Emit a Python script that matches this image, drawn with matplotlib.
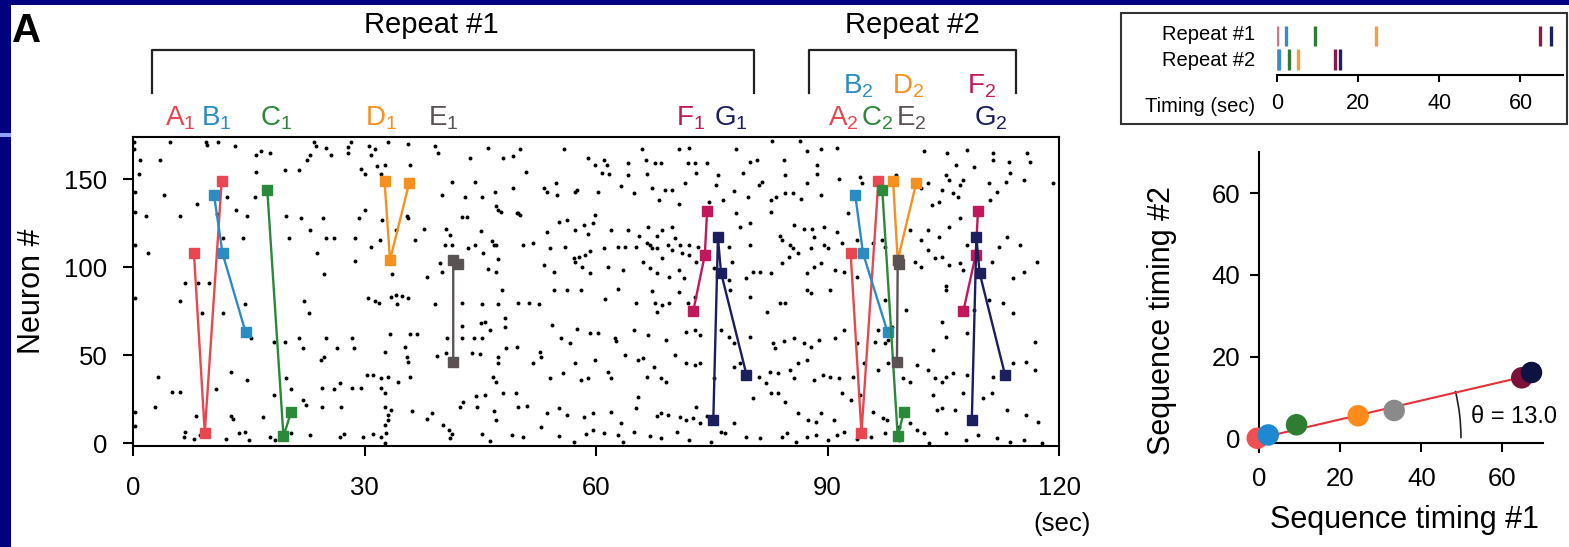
import numpy as np
import matplotlib
matplotlib.use('Agg')
import matplotlib.pyplot as plt
from matplotlib.patches import Rectangle, Arc
from matplotlib.transforms import blended_transform_factory

plt.rcParams['font.family'] = ['Liberation Sans', 'DejaVu Sans']
plt.rcParams['mathtext.default'] = 'regular'

# ---------------- data ----------------
seq_names = ['A', 'B', 'C', 'D', 'E', 'F', 'G']
seq_colors = ['#e8474f', '#2b8cc4', '#2a8a3a', '#f7901e', '#5b5353', '#c2185b', '#1b1f5e']

# repeat 1 sequences (time in sec, neuron #)
rep1_times = [[7.9, 9.3, 11.5], [10.5, 11.6, 14.6], [17.4, 19.5, 20.5], [32.6, 33.3, 35.8],
              [41.5, 41.5, 42.1], [72.6, 74.1, 74.4], [75.2, 75.8, 76.2, 79.5]]
rep1_neurons = [[108, 6, 149], [141, 108, 63], [144, 4, 18], [149, 104, 148],
                [46, 104, 102], [75, 107, 132], [13, 117, 97, 39]]
# repeat 2 sequences
rep2_times = [[93.0, 94.4, 96.6], [93.6, 94.6, 97.8], [97.1, 99.1, 99.9], [98.5, 99.1, 101.5],
              [99.0, 99.1, 99.3], [107.6, 109.2, 109.5], [108.7, 109.3, 109.7, 113.0]]
rep2_neurons = [[108, 6, 149], [141, 108, 63], [144, 4, 18], [149, 104, 148],
                [46, 104, 102], [75, 107, 132], [13, 117, 97, 39]]

# label positions of sequence names (sec)
lab1_x = [6.1, 10.8, 18.5, 32.1, 40.2, 72.2, 77.5]
lab2_x = [92.0, 94.0, 96.4, 100.4, 100.9, 110.0, 111.2]
lab2_row = [0, 1, 0, 1, 0, 1, 0]

# inset: sequence timing (sec, relative to first element)
timing1 = [0.0, 2.3, 9.4, 24.4, 64.8, 67.4]
timing2 = [0.0, 0.6, 3.1, 5.3, 14.4, 15.7]
timing_colors = ['#e07080', '#3a8ac8', '#2e7d32', '#f5a040', '#8b1a4a', '#1a2060']

# scatter of sequence timings
seq_t1 = [-0.5, 2.2, 9.2, 24.4, 33.3, 64.8, 67.2]
seq_t2 = [0.0, 0.8, 3.3, 5.5, 6.8, 14.8, 16.1]
scatter_colors = ['#f05050', '#1e88d0', '#2e7d32', '#ff8c1a', '#8a8a8a', '#7b1038', '#0d1240']
theta_deg = 13.0

# background raster (time sec, neuron #)
spikes = [
(0.1,171),(0.1,167),(4.85,171),(9.5,171),(9.6,169.5),(11.0,171),(13.2,169),(15.9,164),(16.6,166),(17.7,165),
(23.0,164),(23.5,171),(23.7,169),(25.05,168),(25.6,164),(27.8,168.5),(27.8,165),(28.3,171),(30.6,169),(30.9,164),
(31.3,167),(33.0,171),(35.7,170),(39.2,169),(39.5,165),(46.0,168),(43.7,162),(47.9,162),(49.2,163),(50.2,167),
(0.9,161),(3.55,161),(0.8,153),(15.9,154),(19.7,155),(21.5,155),(22.5,161),(29.6,156),(30.0,153),(31.6,157.5),
(32.7,158),(35.9,158),(32.1,153),(0.2,143),(4.0,141),(8.3,136),(12.2,140),(15.8,140),(10.9,130),(13.3,132.5),
(14.8,129),(1.7,129),(6.1,129),(19.8,129),(21.8,128),(24.6,128),(29.3,128),(30.0,132.5),(32.3,127),(35.7,128),
(40.0,141),(41.3,148.6),(43.0,140),(44.3,148.6),(45.2,140),(46.9,143),(47.0,135),(47.3,132.5),(47.7,131.6),(49.3,145),
(49.9,130.6),(0.2,131.6),(0.2,112.7),(2.0,108.3),(11.6,116.4),(14.3,116.4),(20.2,116.4),(23.0,121),(23.9,108.3),(25.05,116.4),
(26.0,116.4),(28.8,116.4),(30.8,111.3),(32.0,115.5),(34.1,121.2),(35.5,129),(36.5,115.5),(37.7,121.6),(40.4,112.7),(40.6,121.6),
(41.05,118.3),(41.3,112.7),(42.6,128.8),(43.3,128.8),(43.4,110.8),(44.3,112.7),(45.1,120.8),(45.3,108.3),(46.5,115),(46.8,112.7),
(47.1,112.7),(49.8,130.6),(28.8,103.6),(33.5,96.2),(39.75,102.6),(40.05,97.5),(45.95,98.8),(47.0,97.5),(24.7,96.2),(38.1,94.3),
(47.25,104.5),(0.2,82.4),(6.8,91.3),(6.1,81),(8.4,91.3),(9.8,91.3),(9.0,74.2),(11.6,74.2),(14.5,79.1),(22.8,74.2),
(22.1,81),(30.4,82.4),(31.3,81),(31.9,79.5),(33.4,83.3),(34.1,84.2),(34.2,79.1),(34.8,83.7),(35.6,82.4),(39.2,79.1),
(42.6,79.5),(45.2,79.1),(45.05,68.5),(47.25,79.1),(47.8,87.1),(48.2,71),(49.9,79.9),(42.6,66.6),(15.3,59.6),(18.3,57.7),
(21.5,59.6),(22.05,54),(25.0,59.6),(28.35,59.6),(33.25,62.1),(35.9,62.1),(36.85,62.1),(40.65,59.6),(42.6,59.6),(44.2,59.6),
(45.2,59.6),(45.6,69.1),(46.3,64.4),(48.2,66.3),(24.4,47.3),(24.8,49.2),(26.5,54),(28.7,54),(30.3,38.8),(31.1,38.8),
(32.1,36.9),(33.0,37.8),(32.6,52.1),(35.5,49.2),(35.2,54.5),(35.7,46.4),(39.4,49.6),(40.6,51.1),(43.9,51.5),(45.0,50.7),
(47.25,49.2),(47.3,45.4),(48.4,54),(49.7,54.9),(3.25,37.8),(5.1,29.3),(6.1,29.3),(12.65,40.3),(14.8,36),(19.8,36.9),
(20.5,30.6),(18.3,27.4),(19.7,57.7),(24.5,31.2),(26.1,30.6),(26.8,34.1),(28.35,31.6),(29.6,31.6),(32.1,31.6),(32.6,28.4),
(34.3,34.8),(35.9,37.5),(46.7,37.8),(47.1,35),(47.9,28.4),(44.4,26.9),(45.6,27.4),(49.6,28.8),(2.9,20.4),(0.2,18),
(0.2,9.8),(8.2,15.5),(10.8,30.6),(12.65,15.5),(12.9,14),(13.7,5.6),(14.5,6.6),(15.0,1.9),(6.8,6.6),(6.6,3.4),
(7.9,2.2),(8.7,4.7),(12.0,2.2),(16.9,14.7),(17.8,3.4),(18.4,1.9),(20.5,5.6),(22.0,24.6),(22.4,21.7),(23.0,4.7),
(24.5,20.4),(27.0,20.8),(26.8,3.8),(27.3,5.3),(29.8,3.8),(31.1,5.3),(32.1,3.8),(32.6,20.8),(33.0,16.1),(33.4,18.9),
(33.1,13.2),(32.6,10.4),(32.8,5.6),(32.7,0.3),(36.2,18.5),(38.1,13.6),(38.7,17),(40.2,10.4),(41.0,7.5),(41.3,5.3),
(41.05,2.8),(42.4,20.4),(42.8,23.6),(44.6,20.4),(45.2,5.3),(46.25,1.5),(47.1,13.2),(46.8,18.3),(49.1,4.7),(49.9,20.4),
(55.9,167),(58.9,162),(59.9,158),(61.0,161),(61.4,158),(64.2,159),(65.95,167),(66.5,161),(67.7,159),(68.4,159),
(70.7,167),(72.0,168),(71.9,159),(72.8,159),(74.4,159),(78.1,167),(79.9,160),(80.8,161),(82.8,172),(84.3,161),
(86.5,172),(87.4,166),(88.6,158),(88.7,153),(89.2,167),(91.2,168),(50.95,154),(53.2,145),(53.6,143),(54.8,147.7),
(55.0,141),(57.3,143),(57.55,144),(60.3,143),(60.8,153.4),(61.7,152.8),(63.3,146),(64.2,152.4),(64.9,142),(66.6,152.8),
(67.2,145),(68.2,138),(68.9,144),(69.8,144),(70.7,136),(71.5,148),(72.9,153.4),(74.6,137.3),(75.8,152.4),(76.5,138),
(75.55,146.7),(77.9,143.5),(79.0,153.4),(79.7,140),(81.1,146.7),(81.5,148.6),(82.7,138),(83.3,140),(84.55,142),(84.55,152.4),
(85.5,142),(86.6,139),(87.4,147.7),(89.2,141),(91.5,150),(94.2,151.5),(94.5,147.7),(98.9,152.4),(102.5,166),(105.5,164.7),
(106.7,158),(108.1,166.6),(109.0,157),(105.3,152.4),(107.2,146.7),(107.6,149.6),(110.9,147.7),(111.4,165),(111.5,161),(113.5,160),
(113.6,153.4),(115.5,149.6),(115.9,164.7),(116.2,160),(119.2,147.7),(102.1,145),(103.0,147.7),(104.9,144),(105.8,149.6),(112.0,143),
(113.1,148.6),(111.1,138),(106.2,142),(103.5,135.4),(106.9,140),(104.4,137.3),
(50.2,129.7),(56.2,127),(55.2,126),(59.9,129.7),(59.6,125),(58.5,124),(53.6,120),(57.3,121),(58.9,119),(61.9,121),
(64.2,121),(65.6,118),(66.8,123),(67.9,118),(68.6,121),(70.2,116.4),(70.9,112.7),(72.1,112.7),(73.2,111.7),(69.8,123),
(78.1,130.6),(78.6,123),(79.9,125),(82.7,131.6),(83.9,118),(85.7,124),(86.9,122),(88.0,122),(89.6,123),(91.2,120),
(92.6,130.6),(50.6,112.7),(51.8,113.6),(54.1,110.8),(56.0,111.7),(57.1,105),(57.8,106),(58.6,107),(59.2,109.4),(61.0,110.8),
(62.9,111.7),(63.8,111.7),(65.2,111.7),(66.6,113.6),(67.0,112.7),(67.2,110.8),(67.9,110.8),(69.3,112.7),(69.8,109.8),(71.2,108),
(72.1,107),(73.0,103.2),(77.2,111.7),(77.6,103.2),(79.9,112.7),(80.4,97.5),(84.1,115.5),(85.1,112.7),(85.5,110.8),(86.2,108),
(87.8,110.8),(88.2,117.4),(89.6,112.7),(90.1,110.8),(91.9,113.6),(93.8,115.5),(95.9,113.6),(97.5,111.7),(53.2,101.3),(54.5,97.5),
(57.3,103.2),(58.2,100.3),(59.2,96.6),(61.5,100.3),(63.5,98.5),(66.1,103.2),(67.0,99.4),(67.9,96.6),(68.6,105),(69.5,94.7),
(70.7,98.5),(71.4,93.7),(75.3,99.4),(77.2,92.8),(79.5,93.7),(81.3,97.5),(82.7,96.6),(84.1,102.2),(85.0,106),(87.3,96.6),
(88.2,100.3),(89.2,102.2),(91.0,98.5),(92.2,97.5),(93.8,94.7),(101.4,103.2),(102.1,100.3),(103.0,109.8),(103.9,105),(104.9,106),
(105.8,101.3),(107.2,102.2),(107.6,98.5),(111.3,103.2),(114.1,93.7),(117.1,103.2),(115.5,97.5),(112.2,111.7),(113.2,117.4),(115.0,112.7),
(108.1,112.7),(103.0,121),(102.1,115.5),(104.4,117.4),(105.8,123),(107.2,127.8),(100.7,121),(97.0,115.5),
(54.5,87.1),(56.2,87.1),(58.0,87.1),(61.2,81.8),(62.9,87.5),(65.2,79.9),(67.2,86.5),(67.7,79.5),(67.9,74.8),(68.6,78.6),
(69.5,79.5),(70.7,86.1),(71.9,79.5),(72.8,83.3),(77.4,87.1),(79.9,83.3),(82.2,74.8),(83.9,79.5),(84.55,79.5),(87.3,87.1),
(87.8,85.2),(90.3,87.1),(51.3,79.9),(52.6,78.9),(54.3,67.2),(57.6,64.7),(55.5,59.6),(56.6,56.8),(59.2,62.5),(60.3,62.5),
(62.4,59.6),(62.6,58.3),(64.9,64.4),(66.8,61.5),(69.1,58.7),(71.6,63.4),(72.8,64.4),(73.5,61.5),(76.2,64.4),(77.2,60.6),
(77.9,56.8),(79.9,60.6),(82.9,56.8),(83.2,54),(84.3,58.3),(85.7,59.6),(86.9,56.8),(87.8,54.9),(88.9,58.7),(91.0,59.6),
(92.2,64.4),(93.8,56.8),(96.1,57.7),(97.9,58.7),(100.2,75.7),(103.7,53),(104.9,69.1),(105.3,87.1),(105.3,89.4),(109.0,75.7),
(110.9,81.4),(112.7,79.5),(114.1,73.8),(116.9,57.7),(98.4,66.3),(97.5,81.4),(105.3,60.6),(108.1,62.5),
(51.9,45.4),(52.7,52.1),(52.9,49.2),(54.1,36.9),(55.7,39.7),(57.3,45.4),(58.0,36),(58.9,36.9),(59.9,47.3),(61.5,40.7),
(61.9,36.9),(63.8,50.2),(65.4,47.3),(66.1,48.3),(66.6,37.8),(67.5,43.5),(68.4,36.9),(69.1,35),(70.2,50.2),(71.6,45.4),
(72.8,44.5),(73.5,45.4),(75.3,36.9),(77.9,43.5),(78.6,45.4),(81.1,37.8),(82.0,34.1),(82.5,40.7),(83.6,39.7),(85.2,41.6),
(85.7,36.9),(86.2,45.4),(87.3,47.3),(88.2,36),(89.4,38.8),(90.3,37.8),(91.5,36.9),(93.3,37.8),(94.7,45.4),(96.5,41.6),
(97.9,45.4),(99.8,36.9),(100.7,35),(101.6,44.5),(103.0,41.6),(103.9,36.9),(104.9,35),(105.3,37.8),(106.2,39.7),(108.1,38.8),
(111.5,37.8),(114.1,45.4),(115.7,46.4),(116.9,41.6),(96.5,64.4),(97.5,56.8),
(51.1,21.2),(53.6,17),(55.2,19.9),(56.2,16.1),(58.5,15.1),(59.6,17),(61.9,18),(63.3,11.3),(65.2,19.9),(65.4,26.5),
(67.9,15.5),(68.4,17),(69.3,16.1),(70.9,15.1),(71.6,13.2),(72.6,14.2),(73.0,20.4),(73.5,11.3),(74.4,15.5),(76.2,6.6),
(77.9,11.3),(80.4,25.5),(82.7,28.4),(83.6,28.4),(84.55,23.6),(86.2,17),(87.5,13.2),(88.5,12.3),(89.2,17),(90.8,13.2),
(91.9,28.4),(93.1,24.6),(94.2,27.4),(95.9,18),(97.2,14.2),(97.7,13.2),(99.3,9.4),(100.7,11.3),(101.6,7.5),(103.7,27.4),
(104.2,18.9),(104.9,19.9),(106.5,18.9),(107.6,28.4),(110.2,25.5),(111.3,28.4),(113.2,18.9),(115.7,16.1),(117.3,12.3),
(52.9,9.4),(55.2,4.1),(57.1,0.9),(58.7,5.3),(59.6,7.5),(61.0,5.6),(62.9,4.7),(63.5,0.9),(64.9,6.6),(67.0,4.1),
(68.4,2.8),(70.5,6.6),(72.1,1.9),(74.9,0.9),(76.7,5.6),(79.5,3.8),(81.3,2.8),(84.1,3.8),(84.8,5.6),(85.9,0.9),
(87.3,3.8),(88.5,4.7),(90.1,1.9),(91.2,4.7),(92.2,6.6),(93.8,2.2),(95.6,3.8),(97.5,5.6),(99.3,1.9),(102.5,5.6),
(103.2,0.3),(105.3,5.6),(107.9,1.9),(109.5,4.7),(112.0,2.8),(113.6,0.9),(115.5,1.9),(117.8,0.3),(50.6,3.8),
]

# ---------------- figure ----------------
W, H = 1569, 547
fig = plt.figure(figsize=(W / 100, H / 100), dpi=100)
fig.patch.set_facecolor('#000080')

def px(x0, y0, w, h):
    return (x0 / W, 1 - (y0 + h) / H, w / W, h / H)

# slide background: white panel and small light-blue stripe
x0, y0, w, h = px(11, 4.5, W - 11, H - 4.5)
fig.patches.append(Rectangle((x0, y0), w, h, transform=fig.transFigure, fc='white', ec='none', zorder=-5))
x0, y0, w, h = px(0, 133, 11, 4)
fig.patches.append(Rectangle((x0, y0), w, h, transform=fig.transFigure, fc='#8fa0ff', ec='none', zorder=-5))

fig.text(12 / W, 1 - 42 / H, 'A', fontsize=29, fontweight='bold', ha='left', va='baseline')

# ---------------- main raster ----------------
ax = fig.add_axes(px(133, 137, 1059 - 133, 446 - 137))
ax.set_facecolor('white')
st = np.array([s[0] for s in spikes])
sn = np.array([s[1] for s in spikes])
ax.scatter(st, sn, s=8, c='black', marker='o', linewidths=0, zorder=2)
for i in range(len(seq_names)):
    for T, N in ((rep1_times[i], rep1_neurons[i]), (rep2_times[i], rep2_neurons[i])):
        ax.plot(T, N, '-s', color=seq_colors[i], lw=1.7, ms=7.5, mec=seq_colors[i], zorder=3)
ax.set_xlim(0, 120)
ax.set_ylim(-1.5, 174)
ax.set_xticks([0, 30, 60, 90, 120])
ax.set_yticks([0, 50, 100, 150])
for sp in ax.spines.values():
    sp.set_linewidth(1.5)
ax.tick_params(direction='out', length=7.5, width=1.5, labelsize=18.5)
ax.tick_params(axis='x', pad=14)
ax.tick_params(axis='y', pad=11)
fig.text(32 / W, 1 - 291 / H, 'Neuron #', rotation=90, fontsize=22, ha='center', va='center')
fig.text(1062 / W, 1 - 524 / H, '(sec)', fontsize=18.5, ha='center', va='center')

# sequence labels and brackets above the raster
bt = blended_transform_factory(ax.transData, ax.transAxes)
for i, nm in enumerate(seq_names):
    ax.text(lab1_x[i], 1.036, r'$\mathregular{%s_1}$' % nm, color=seq_colors[i], fontsize=20,
            ha='center', va='baseline', transform=bt, clip_on=False)
    yy = 1.142 if lab2_row[i] else 1.036
    ax.text(lab2_x[i], yy, r'$\mathregular{%s_2}$' % nm, color=seq_colors[i], fontsize=20,
            ha='center', va='baseline', transform=bt, clip_on=False)
for (xa, xb) in ((2.5, 80.5), (87.6, 114.4)):
    ax.plot([xa, xa, xb, xb], [1.1424, 1.2816, 1.2816, 1.1424], color='#222222', lw=1.6,
            transform=bt, clip_on=False)
ax.text(38.7, 1.337, 'Repeat #1', fontsize=21, ha='center', va='baseline', transform=bt, clip_on=False)
ax.text(101, 1.337, 'Repeat #2', fontsize=21, ha='center', va='baseline', transform=bt, clip_on=False)

# ---------------- inset: timing bars ----------------
x0, y0, w, h = px(1120.7, 13.3, 1567 - 1120.7, 124 - 13.3)
fig.patches.append(Rectangle((x0, y0), w, h, transform=fig.transFigure, fill=False, ec='#333333', lw=1.5))
ax2 = fig.add_axes(px(1276.7, 24, 1562.7 - 1276.7, 75 - 24))
ax2.set_facecolor('none')
ax2.vlines(timing1, 1.54, 2.32, colors=timing_colors, linewidths=2.4)
ax2.vlines(timing2, 0.6, 1.42, colors=timing_colors, linewidths=2.4)
ax2.set_xlim(0, 70.4)
ax2.set_ylim(0.4, 2.4)
for s in ('left', 'right', 'top'):
    ax2.spines[s].set_visible(False)
ax2.spines['bottom'].set_linewidth(1.5)
ax2.set_yticks([])
ax2.set_xticks([0, 20, 40, 60])
ax2.tick_params(axis='x', direction='out', length=5, width=1.5, labelsize=15.5, pad=8)
fig.text(1255 / W, 1 - 34 / H, 'Repeat #1', fontsize=14.5, ha='right', va='center')
fig.text(1255 / W, 1 - 60 / H, 'Repeat #2', fontsize=14.5, ha='right', va='center')
fig.text(1255 / W, 1 - 107 / H, 'Timing (sec)', fontsize=14.5, ha='right', va='center')

# ---------------- inset: sequence timing scatter ----------------
ax3 = fig.add_axes(px(1259.3, 152.5, 1542.8 - 1259.3, 451.7 - 152.5))
ax3.set_facecolor('none')
ax3.set_xlim(0, 70)
ax3.set_ylim(-3.3, 70)
for s in ('right', 'top'):
    ax3.spines[s].set_visible(False)
ax3.spines['bottom'].set_position(('data', -1.1))
ax3.spines['bottom'].set_linewidth(1.5)
ax3.spines['left'].set_linewidth(1.5)
slope = np.tan(np.deg2rad(theta_deg))
xx = np.array([0, 67.5])
ax3.plot(xx, slope * xx, color='#e8303a', lw=1.5, zorder=2)
ax3.scatter(seq_t1, seq_t2, s=240, c=scatter_colors, linewidths=0, zorder=3, clip_on=False)
ax3.add_patch(Arc((0, 0), 2 * 49.8, 2 * 49.8 * 4.05 / 4.083, theta1=0, theta2=13.5, color='#222222', lw=1.2))
ax3.text(52.2, 5.3, 'θ = 13.0', fontsize=17, ha='left', va='center')
ax3.set_xticks([0, 20, 40, 60])
ax3.set_yticks([0, 20, 40, 60])
ax3.tick_params(direction='out', length=6.5, width=1.5, labelsize=18.5)
ax3.tick_params(axis='x', pad=11)
ax3.tick_params(axis='y', pad=7)
fig.text(1404 / W, 1 - 520 / H, 'Sequence timing #1', fontsize=22, ha='center', va='center')
fig.text(1162 / W, 1 - 321 / H, 'Sequence timing #2', fontsize=22, rotation=90, ha='center', va='center')

fig.savefig('out.png', dpi=100, facecolor=fig.get_facecolor())
